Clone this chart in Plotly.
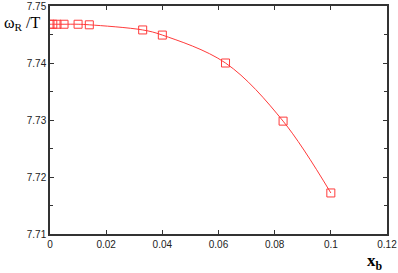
import plotly.graph_objects as go

x_b = [0.0, 0.001, 0.0025, 0.005, 0.01, 0.014, 0.033, 0.04, 0.0625, 0.083, 0.1]
omega = [7.7468, 7.7468, 7.7468, 7.7468, 7.7468, 7.7467, 7.7458, 7.7449, 7.7400, 7.7298, 7.7172]

x_ticks = [0, 0.02, 0.04, 0.06, 0.08, 0.1, 0.12]
x_tick_labels = ["0", "0.02", "0.04", "0.06", "0.08", "0.1", "0.12"]
y_ticks = [7.71, 7.72, 7.73, 7.74, 7.75]
y_tick_labels = ["7.71", "7.72", "7.73", "7.74", "7.75"]

red = "#ff3b3b"
axis_col = "#333333"

fig = go.Figure()
fig.add_trace(go.Scatter(
    x=x_b, y=omega, mode="lines+markers",
    line=dict(color=red, width=1, shape="spline", smoothing=1.0),
    marker=dict(symbol="square-open", size=8, color=red, line=dict(width=1, color=red)),
    showlegend=False,
))

fig.update_layout(
    width=398, height=273,
    margin=dict(l=50, r=11, t=6, b=39),
    plot_bgcolor="white", paper_bgcolor="white",
    font=dict(family="Liberation Sans, Arial, sans-serif", size=10, color="#222222"),
)
fig.update_xaxes(
    range=[0, 0.12], tickvals=x_ticks, ticktext=x_tick_labels, automargin=False,
    showgrid=False, zeroline=False, showline=True, linecolor=axis_col, linewidth=1.5,
    mirror="ticks", ticks="inside", ticklen=4, tickcolor=axis_col, tickwidth=1,
)
fig.update_yaxes(
    range=[7.71, 7.75], tickvals=y_ticks, ticktext=y_tick_labels, automargin=False,
    showgrid=False, zeroline=False, showline=True, linecolor=axis_col, linewidth=1.5,
    mirror="ticks", ticks="inside", ticklen=4, tickcolor=axis_col, tickwidth=1,
    minor=dict(dtick=0.005, tick0=7.71, ticks="inside", ticklen=3, tickcolor=axis_col, showgrid=False),
)

fig.add_annotation(
    text="ω<sub>R</sub> /T", xref="paper", yref="paper", x=-0.083, y=0.925,
    xanchor="center", yanchor="middle", showarrow=False,
    font=dict(family="Liberation Serif, Times New Roman, serif", size=16, color="black"),
)
fig.add_annotation(
    text="<b>x</b><sub><b>b</b></sub>", xref="paper", yref="paper", x=0.965, y=-0.065,
    xanchor="center", yanchor="top", showarrow=False,
    font=dict(family="Liberation Serif, Times New Roman, serif", size=17, color="black"),
)

fig.write_html("out.html", config={"displayModeBar": False},
               post_script="document.body.style.margin='0';document.body.style.overflow='hidden';")
